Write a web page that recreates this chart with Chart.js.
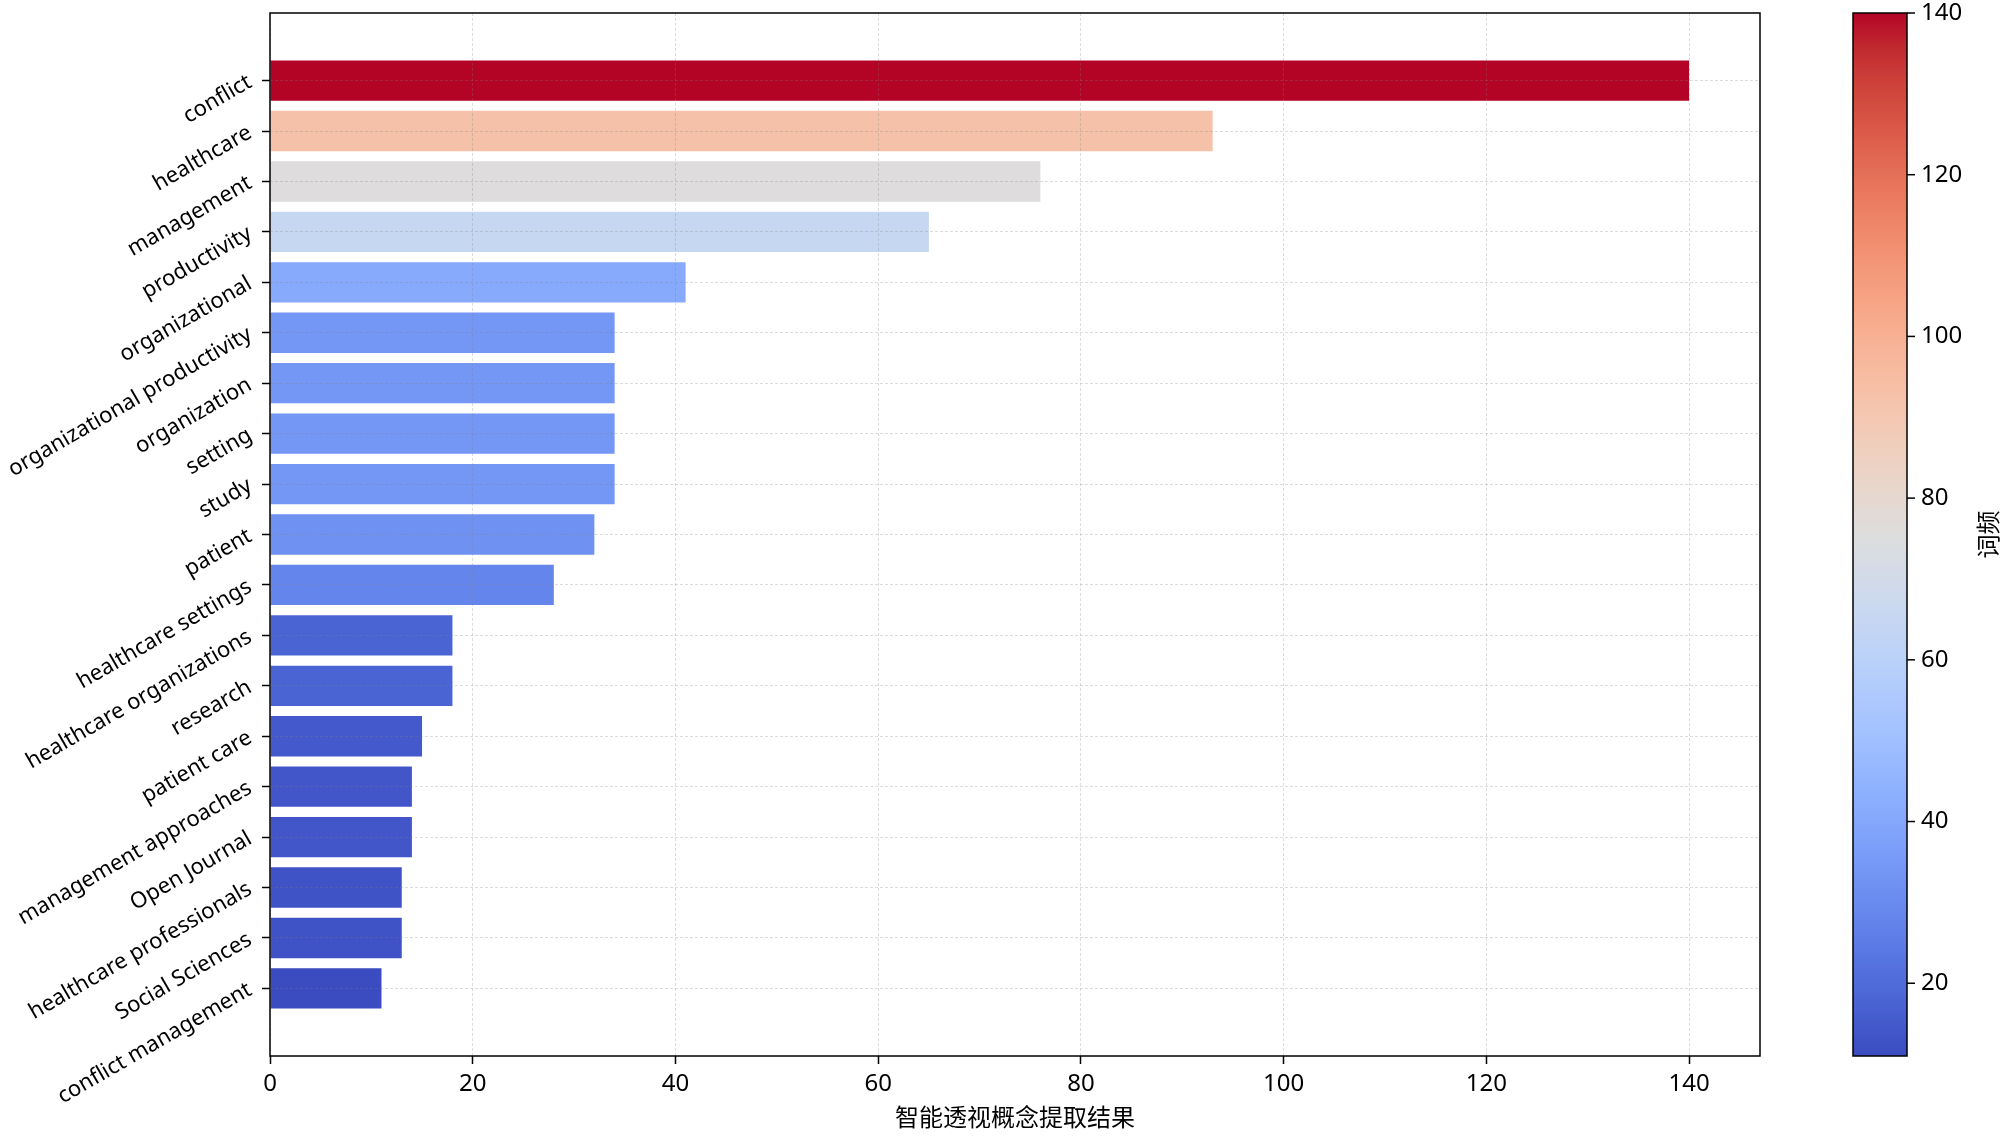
<!DOCTYPE html>
<html>
<head>
<meta charset="utf-8">
<title>智能透视概念提取结果</title>
<script src="https://cdn.jsdelivr.net/npm/chart.js@4.4.0/dist/chart.umd.min.js"></script>
<style>
  html, body { margin: 0; padding: 0; background: #fff; }
  #wrap { width: 2000px; height: 1136px; }
</style>
</head>
<body>
<div id="wrap"><canvas id="chart" width="2000" height="1136"></canvas></div>
<script>
  'use strict'

  // data, top to bottom
  const terms = [
    'conflict',
    'healthcare',
    'management',
    'productivity',
    'organizational',
    'organizational productivity',
    'organization',
    'setting',
    'study',
    'patient',
    'healthcare settings',
    'healthcare organizations',
    'research',
    'patient care',
    'management approaches',
    'Open Journal',
    'healthcare professionals',
    'Social Sciences',
    'conflict management'
  ]
  const counts = [140, 93, 76, 65, 41, 34, 34, 34, 34, 32, 28, 18, 18, 15, 14, 14, 13, 13, 11]
  const xTicks = [0, 20, 40, 60, 80, 100, 120, 140]
  const cbTicks = [20, 40, 60, 80, 100, 120, 140]
  const xTitle = '智能透视概念提取结果'
  const cbTitle = '词频'

  // coolwarm (Moreland) control points
  const coolwarm = [
    [0, 59, 76, 192], [0.03125, 68, 90, 204], [0.0625, 77, 104, 215], [0.09375, 87, 117, 225],
    [0.125, 98, 130, 234], [0.15625, 108, 142, 241], [0.1875, 119, 154, 247], [0.21875, 130, 165, 251],
    [0.25, 141, 176, 254], [0.28125, 152, 185, 255], [0.3125, 163, 194, 255], [0.34375, 174, 201, 253],
    [0.375, 184, 208, 249], [0.40625, 194, 213, 244], [0.4375, 204, 217, 238], [0.46875, 213, 219, 230],
    [0.5, 221, 221, 221], [0.53125, 229, 216, 209], [0.5625, 236, 211, 197], [0.59375, 241, 204, 185],
    [0.625, 245, 196, 173], [0.65625, 247, 187, 160], [0.6875, 247, 177, 148], [0.71875, 247, 166, 135],
    [0.75, 244, 154, 123], [0.78125, 241, 141, 111], [0.8125, 236, 127, 99], [0.84375, 229, 112, 88],
    [0.875, 222, 96, 77], [0.90625, 213, 80, 66], [0.9375, 203, 62, 56], [0.96875, 192, 40, 47],
    [1, 180, 4, 38]
  ]

  function cmap(t) {
    t = Math.max(0, Math.min(1, t))
    for (let i = 1; i < coolwarm.length; i++) {
      const a = coolwarm[i - 1], b = coolwarm[i]
      if (t <= b[0]) {
        const f = (t - a[0]) / (b[0] - a[0])
        const c = [1, 2, 3].map(k => Math.round(a[k] + (b[k] - a[k]) * f))
        return 'rgb(' + c.join(',') + ')'
      }
    }
    return 'rgb(180,4,38)'
  }

  const vmin = Math.min(...counts)
  const vmax = Math.max(...counts)
  const norm = v => (v - vmin) / (vmax - vmin)

  // matplotlib-like margins around the bars
  const n = terms.length
  const pad = 0.05 * (n - 1 + 0.8)
  const yMin = -0.4 - pad
  const yMax = n - 1 + 0.4 + pad
  const xMax = vmax * 1.05

  const FONT = "'Noto Sans', 'Noto Sans CJK SC', sans-serif"
  Chart.defaults.font.family = FONT
  Chart.defaults.color = '#000'

  const gridLine = {
    color: 'rgba(128,128,128,0.28)',
    lineWidth: 1,
    z: 1,
    offset: false,
    tickLength: 8,
    tickColor: '#000',
    tickWidth: 1.5,
    tickBorderDash: []
  }

  // no extra room for rotated labels
  const noPad = axis => {
    axis.paddingTop = 0
    axis.paddingBottom = 0
    axis.paddingLeft = 0
    axis.paddingRight = 0
  }

  // box round the plot + colorbar
  const frameAndColorbar = {
    id: 'frameAndColorbar',
    afterDraw(chart) {
      const ctx = chart.ctx
      const a = chart.chartArea
      ctx.save()
      ctx.setLineDash([])
      ctx.lineWidth = 1.5
      ctx.strokeStyle = '#000'
      ctx.strokeRect(a.left, a.top, a.right - a.left, a.bottom - a.top)

      const cb = chart.scales.cb
      const top = cb.getPixelForValue(vmax)
      const bottom = cb.getPixelForValue(vmin)
      const x0 = 1853, x1 = 1907
      const grad = ctx.createLinearGradient(0, bottom, 0, top)
      coolwarm.forEach(p => grad.addColorStop(p[0], 'rgb(' + p[1] + ',' + p[2] + ',' + p[3] + ')'))
      ctx.fillStyle = grad
      ctx.fillRect(x0, top, x1 - x0, bottom - top)
      ctx.strokeRect(x0, top, x1 - x0, bottom - top)

      ctx.font = '24px ' + FONT
      ctx.fillStyle = '#000'
      ctx.textAlign = 'left'
      ctx.textBaseline = 'middle'
      cbTicks.forEach(v => {
        const y = cb.getPixelForValue(v)
        ctx.beginPath()
        ctx.moveTo(x1, y)
        ctx.lineTo(x1 + 8, y)
        ctx.stroke()
        ctx.fillText(String(v), x1 + 14, y)
      })

      ctx.translate(1990, (top + bottom) / 2)
      ctx.rotate(-Math.PI / 2)
      ctx.textAlign = 'center'
      ctx.fillText(cbTitle, 0, 0)
      ctx.restore()
    }
  }

  const ctx = document.getElementById('chart')
  const chart = new Chart(ctx, {
    type: 'bar',
    data: {
      datasets: [{
        data: counts.map((v, i) => ({ x: v, y: i })),
        backgroundColor: counts.map(v => cmap(norm(v))),
        borderWidth: 0,
        barPercentage: 0.8,
        categoryPercentage: 1
      }]
    },
    options: {
      indexAxis: 'y',
      responsive: false,
      animation: false,
      devicePixelRatio: 1,
      layout: { padding: { left: 0, right: 240, top: 13, bottom: 0 } },
      plugins: {
        legend: { display: false },
        tooltip: { enabled: false }
      },
      scales: {
        x: {
          type: 'linear',
          position: 'bottom',
          min: 0,
          max: xMax,
          afterBuildTicks: axis => { axis.ticks = xTicks.map(v => ({ value: v })) },
          afterFit: axis => { axis.height = 80; noPad(axis) },
          grid: gridLine,
          border: { display: false, dash: [3, 2] },
          ticks: { font: { size: 24 }, padding: 6, color: '#000' },
          title: {
            display: true,
            text: xTitle,
            font: { size: 24 },
            color: '#000',
            padding: { top: 0, bottom: 2 }
          }
        },
        y: {
          type: 'linear',
          position: 'left',
          reverse: true,
          offset: false,
          min: yMin,
          max: yMax,
          afterBuildTicks: axis => { axis.ticks = terms.map((_, i) => ({ value: i })) },
          afterFit: axis => { axis.width = 270; noPad(axis) },
          grid: gridLine,
          border: { display: false, dash: [3, 2] },
          ticks: {
            font: { size: 22 },
            padding: 12,
            color: '#000',
            minRotation: 30,
            maxRotation: 30,
            autoSkip: false,
            callback: value => terms[value]
          }
        },
        // colour scale of the colorbar, drawn by the plugin
        cb: {
          type: 'linear',
          axis: 'y',
          position: 'right',
          offset: false,
          min: vmin,
          max: vmax,
          afterFit: axis => { axis.width = 0; noPad(axis) },
          grid: { display: false, offset: false },
          border: { display: false },
          ticks: { display: false }
        }
      }
    },
    plugins: [frameAndColorbar]
  })
</script>
</body>
</html>
